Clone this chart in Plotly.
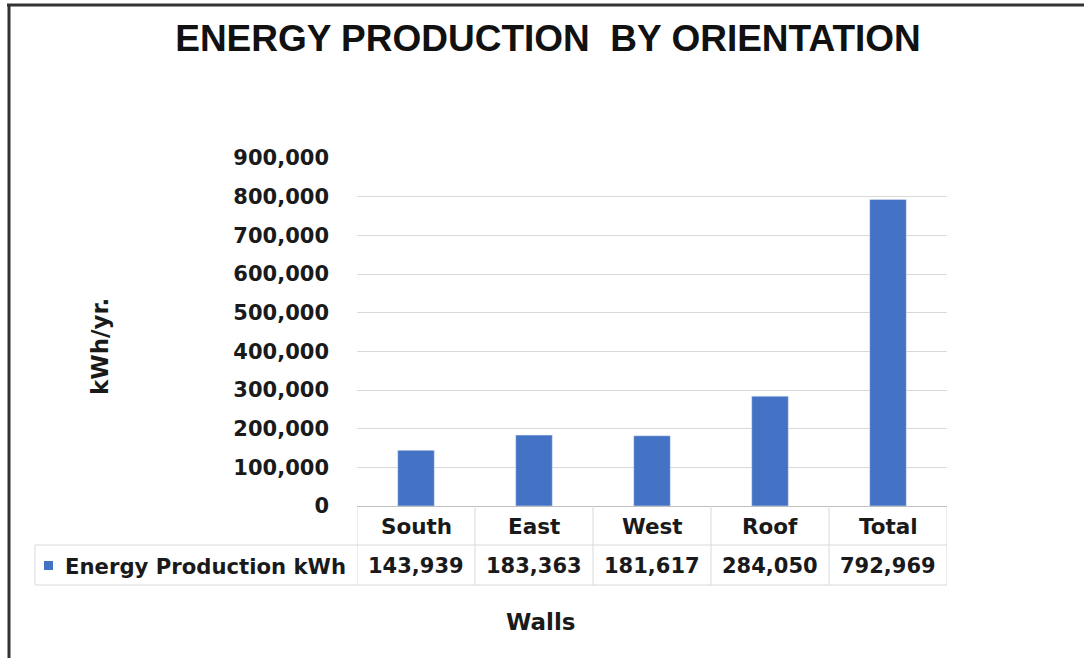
import plotly.graph_objects as go

categories = ["South", "East", "West", "Roof", "Total"]
energy_kwh = [143939, 183363, 181617, 284050, 792969]
series_name = "Energy Production kWh"
y_ticks = [0, 100000, 200000, 300000, 400000, 500000, 600000, 700000, 800000, 900000]
title_text = "ENERGY PRODUCTION  BY ORIENTATION"
y_title = "kWh/yr."
x_title = "Walls"

W, H = 1084, 658
L, R, T, B = 357, 137, 158, 152
BAR = "#4472C4"
GRID = "#d9d9d9"
TXT = "#1a1a1a"
FONT = "DejaVu Sans"
PW = W - L - R
PH = H - T - B

fig = go.Figure()
fig.add_trace(go.Bar(x=categories, y=energy_kwh, marker_color=BAR, width=0.31,
                     name=series_name, showlegend=False))

def bold(size):
    return dict(family=FONT, size=size, color=TXT, weight="bold")

ann = []
# category row and value row of the data table
for c, v in zip(categories, energy_kwh):
    ann.append(dict(x=c, xref="x", y=0, yref="paper", yanchor="middle", yshift=-20, text=c,
                    showarrow=False, font=bold(21.5)))
    ann.append(dict(x=c, xref="x", y=0, yref="paper", yanchor="middle", yshift=-60,
                    text=f"{v:,}", showarrow=False, font=bold(21)))
ann.append(dict(x=0, xref="paper", xanchor="right", xshift=-9, y=0, yref="paper",
                yanchor="middle", yshift=-60, text=series_name, showarrow=False, font=bold(21.2)))
ann.append(dict(x=0, xref="paper", xanchor="center", xshift=-257, y=(506 - 347) / PH,
                yref="paper", yanchor="middle", text=y_title, textangle=-90,
                showarrow=False, font=bold(23)))
ann.append(dict(x=(541 - L) / PW, xref="paper", xanchor="center", y=0, yref="paper",
                yanchor="middle", yshift=-116, text=x_title, showarrow=False, font=bold(23)))

shapes = []
def pline(x0, x1, y0, y1, color=GRID, width=1, xref="paper", xanchor=0):
    shapes.append(dict(type="line", xref=xref, yref="paper", ysizemode="pixel", yanchor=0,
                       xsizemode="pixel", xanchor=xanchor, x0=x0, x1=x1, y0=y0, y1=y1,
                       line=dict(color=color, width=width)))

# table horizontal lines (pixels relative to plot bottom-left)
pline(-322, PW, -39, -39)
pline(-322, PW, -79, -79)
# table vertical lines at category boundaries
n = len(categories)
for i in range(n + 1):
    pline(0, 0, 0, -79, xref="x", xanchor=i - 0.5)
pline(-322, -322, -39, -79)
# legend key
shapes.append(dict(type="rect", xref="paper", yref="paper", xsizemode="pixel", ysizemode="pixel",
                   xanchor=0, yanchor=0, x0=-313, x1=-304, y0=-64, y1=-55,
                   fillcolor=BAR, line=dict(width=0)))
# outer frame
pline(-348, -348, 502, -160, color="#333333", width=3)
pline(-350, W - L + 5, 501, 501, color="#333333", width=3)

fig.update_layout(
    width=W, height=H, margin=dict(l=L, r=R, t=T, b=B),
    paper_bgcolor="white", plot_bgcolor="white",
    title=dict(text=title_text, x=548 / W, xanchor="center", y=1 - 38 / H, yanchor="middle",
               yref="container", font=dict(family="Liberation Sans", size=37, color="#111111",
                                            weight="bold")),
    xaxis=dict(range=[-0.5, n - 0.5], showticklabels=False, showgrid=False,
               showline=True, linecolor="#bfbfbf", zeroline=False, fixedrange=True),
    yaxis=dict(range=[0, 900000], tickvals=y_ticks, tickformat=",", showgrid=True,
               gridcolor=GRID, gridwidth=1, zeroline=False, showline=False,
               ticklabelstandoff=27, tickfont=bold(21)),
    annotations=ann, shapes=shapes, showlegend=False,
)

fig.write_html("out.html", config={"displayModeBar": False},
               post_script="document.body.style.margin='0';")
